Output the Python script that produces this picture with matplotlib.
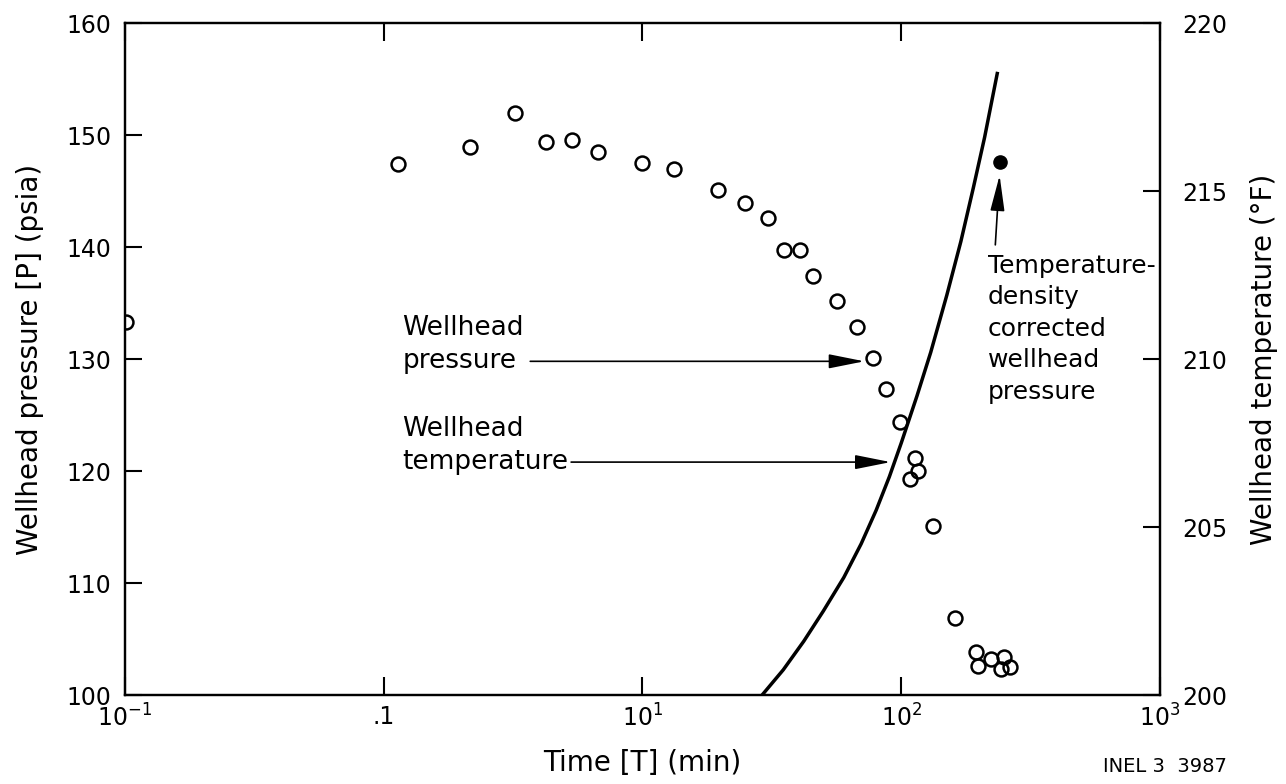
import numpy as np
import matplotlib
matplotlib.use("Agg")
import matplotlib.pyplot as plt
from matplotlib.ticker import NullLocator

plt.rcParams['font.family'] = ['DejaVu Sans']
plt.rcParams['mathtext.default'] = 'regular'

# wellhead pressure readings (open circles)
time_p = [0.101, 1.14, 2.15, 3.22, 4.24, 5.35, 6.76, 9.98, 13.2, 19.5,
          24.9, 30.5, 35.2, 40.5, 45.8, 56.5, 67.5, 78.0, 87.5, 98.9,
          113, 116, 108, 133, 162, 195, 198, 223, 249, 244, 264]
pressure = [133.3, 147.4, 148.9, 152.0, 149.4, 149.6, 148.5, 147.5, 147.0, 145.1,
            143.9, 142.6, 139.7, 139.7, 137.4, 135.2, 132.9, 130.1, 127.3, 124.4,
            121.2, 120.0, 119.3, 115.1, 106.9, 103.8, 102.6, 103.2, 103.4, 102.3, 102.5]

# temperature-density corrected point (filled)
time_corr = [240]
pressure_corr = [147.6]

# wellhead temperature curve
time_t = [29, 35, 42, 50, 60, 70, 80, 90, 100, 115, 130, 150, 170, 190, 210, 235]
temperature = [200.0, 200.75, 201.6, 202.5, 203.5, 204.5, 205.5, 206.5, 207.5,
               208.9, 210.2, 211.9, 213.5, 215.1, 216.6, 218.5]

x_ticks = [0.1, 1, 10, 100, 1000]
x_labels = [r'$10^{-1}$', '.1', r'$10^{1}$', r'$10^{2}$', r'$10^{3}$']
p_ticks = [100, 110, 120, 130, 140, 150, 160]
t_ticks = [200, 205, 210, 215, 220]

fs = 17      # tick labels
fs_lab = 20  # axis labels
fs_ann = 19  # annotations

fig = plt.figure(figsize=(12.86, 7.84), dpi=100)
ax = fig.add_axes([0.0972, 0.1135, 0.8048, 0.857])
ax2 = ax.twinx()

ax.plot(time_p, pressure, 'o', mfc='none', mec='black', ms=10, mew=1.8, zorder=3)
ax.plot(time_corr, pressure_corr, 'o', mfc='black', mec='black', ms=9.5, zorder=3)
ax2.plot(time_t, temperature, '-', color='black', lw=2.5)

ax.set_xscale('log')
ax.set_xlim(0.1, 1000)
ax.set_ylim(100, 160)
ax2.set_ylim(200, 220)

ax.set_xticks(x_ticks)
ax.set_xticklabels(x_labels)
ax.xaxis.set_minor_locator(NullLocator())
ax.set_yticks(p_ticks)
ax2.set_yticks(t_ticks)

ax.tick_params(axis='x', which='major', direction='in', top=True, length=13, width=1.5,
               labelsize=fs, pad=7)
ax.tick_params(axis='y', direction='in', length=12, width=1.5, labelsize=fs, pad=10)
ax2.tick_params(axis='y', direction='in', length=12, width=1.5, labelsize=fs, pad=16)

for a in (ax, ax2):
    for s in a.spines.values():
        s.set_linewidth(1.6)

ax.set_xlabel('Time [T] (min)', fontsize=fs_lab, labelpad=12)
ax.set_ylabel('Wellhead pressure [P] (psia)', fontsize=fs_lab, labelpad=16)
ax2.set_ylabel('Wellhead temperature (°F)', fontsize=fs_lab, labelpad=16)

arrow = dict(arrowstyle='-|>,head_length=1.1,head_width=0.22', color='black',
             lw=1.2, mutation_scale=20, shrinkB=0, relpos=(1, 0.5))

# Wellhead pressure label + arrow
ax.text(1.18, 132.8, 'Wellhead', fontsize=fs_ann, ha='left', va='center')
ax.annotate('pressure', xy=(72, 129.8), xytext=(1.18, 129.8), fontsize=fs_ann,
            ha='left', va='center', arrowprops=dict(arrow, shrinkA=8))

# Wellhead temperature label + arrow
ax.text(1.18, 123.8, 'Wellhead', fontsize=fs_ann, ha='left', va='center')
ax.annotate('temperature', xy=(91, 120.8), xytext=(1.18, 120.8), fontsize=fs_ann,
            ha='left', va='center', arrowprops=dict(arrow, shrinkA=0))

# corrected pressure label + arrow
ax.text(216, 132.7, 'Temperature-\ndensity\ncorrected\nwellhead\npressure', fontsize=18,
        ha='left', va='center', linespacing=1.4)
ax.annotate('', xy=(240, 146.4), xytext=(231, 140.2),
            arrowprops=dict(arrow, shrinkA=0))

fig.text(0.954, 0.01, 'INEL 3  3987', fontsize=14, ha='right', va='bottom')

fig.savefig('out.png', dpi=100)
